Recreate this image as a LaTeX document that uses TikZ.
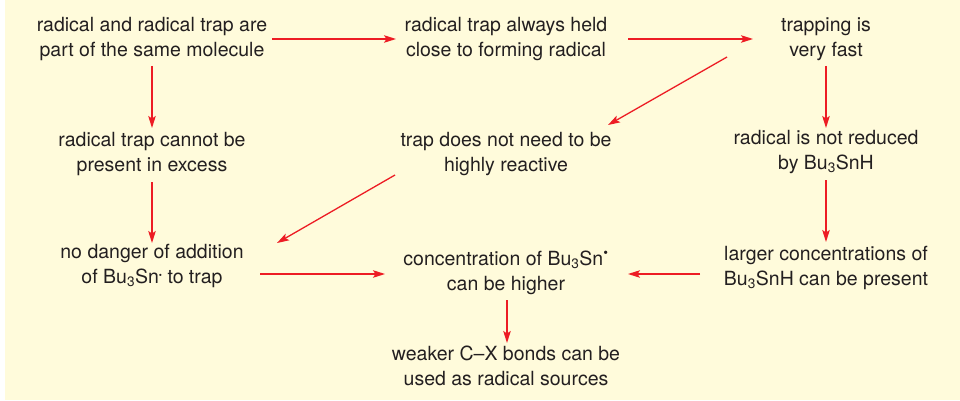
\documentclass[tikz,border=0pt]{standalone}
\usepackage{fontspec}
\setmainfont{TeX Gyre Heros}
\usetikzlibrary{arrows.meta,calc}
\definecolor{bgyellow}{HTML}{FFFBDB}
\definecolor{txtgray}{HTML}{231F20}
\definecolor{arrred}{HTML}{ED1C24}
\begin{document}
\begin{tikzpicture}[x=1pt,y=-1pt,
  box/.style={align=center,inner sep=0pt,text=txtgray,font=\fontsize{19.5}{25.5}\selectfont},
  arr/.style={draw=arrred,line width=1.3pt,-{Stealth[length=12pt,width=7.5pt,inset=2.5pt]}}]
\useasboundingbox (0,0) rectangle (960,401);
\fill[bgyellow] (5,0) rectangle (960,400);
\node[box] (n1) at (152,39) {radical and radical trap are\\part of the same molecule};
\node[box] (n2) at (506,39) {radical trap always held\\close to forming radical};
\node[box] (n3) at (826,39) {trapping is\\very fast};
\node[box] (n4) at (152,154) {radical trap cannot be\\present in excess};
\node[box] (n5) at (506,154) {trap does not need to be\\highly reactive};
\node[box] (n6) at (826,152) {radical is not reduced\\by Bu\textsubscript{3}SnH};
\node[box] (n7) at (152,266) {no danger of addition\\of Bu\textsubscript{3}Sn\raisebox{0.55ex}{\small\textbullet} to trap};
\node[box] (n8) at (506,273) {concentration of Bu\textsubscript{3}Sn\textsuperscript{\textbullet}\\can be higher};
\node[box] (n9) at (826,268) {larger concentrations of\\Bu\textsubscript{3}SnH can be present};
\node[box] (n10) at (506,366) {weaker C–X bonds can be\\used as radical sources};
\draw[arr] ([xshift=120pt]n1.center) -- ([xshift=-110pt]n2.center);
\draw[arr] ([xshift=122pt]n2.center) -- ([xshift=-73pt]n3.center);
\draw[arr] ([shift={(-99pt,-18pt)}]n3.center) -- ([shift={(102pt,29pt)}]n5.center);
\draw[arr] ([yshift=-27pt]n1.center) -- ([yshift=26pt]n4.center);
\draw[arr] ([yshift=-27pt]n3.center) -- ([yshift=24pt]n6.center);
\draw[arr] ([yshift=-28pt]n4.center) -- ([yshift=23pt]n7.center);
\draw[arr] ([shift={(-111pt,-21pt)}]n5.center) -- ([shift={(125pt,23pt)}]n7.center);
\draw[arr] ([yshift=-28pt]n6.center) -- ([yshift=26pt]n9.center);
\draw[arr] ([shift={(108pt,-8pt)}]n7.center) -- ([shift={(-121pt,-1pt)}]n8.center);
\draw[arr] ([shift={(-126pt,-6pt)}]n9.center) -- ([shift={(122pt,-1pt)}]n8.center);
\draw[arr] ([shift={(1pt,-27pt)}]n8.center) -- ([shift={(1pt,23pt)}]n10.center);
\end{tikzpicture}
\end{document}
